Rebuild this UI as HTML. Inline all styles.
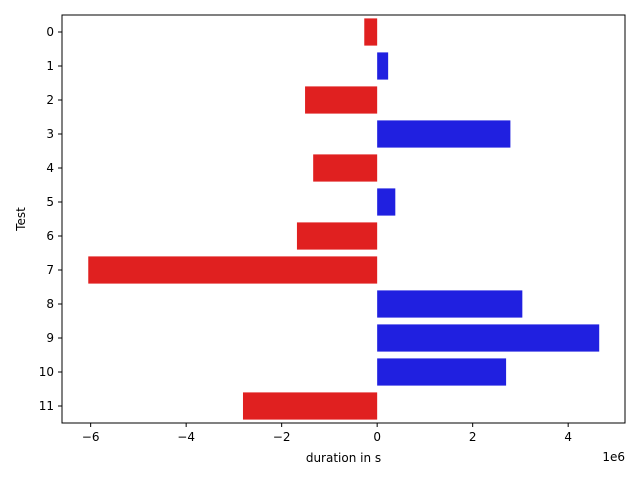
<!DOCTYPE html>
<html><head><meta charset="utf-8"><style>
body{margin:0;background:#fff;font-family:"DejaVu Sans","Liberation Sans",sans-serif;}
</style></head><body>
<svg id="chart" width="640" height="480" xmlns="http://www.w3.org/2000/svg" font-family="DejaVu Sans, Liberation Sans, sans-serif"></svg>
<script>
const categories=["0","1","2","3","4","5","6","7","8","9","10","11"];
const values=[-0.27,0.23,-1.51,2.79,-1.34,0.38,-1.68,-6.05,3.04,4.65,2.70,-2.81];
const xTicks=[-6,-4,-2,0,2,4];
const xTickLabels=["\u22126","\u22124","\u22122","0","2","4"];
const svg=document.getElementById('chart');
const NS="http://www.w3.org/2000/svg";
const L=62,R=625,T=15,B=423;
const xmin=-6.6,xmax=5.19;
const xs=v=>L+(v-xmin)/(xmax-xmin)*(R-L);
const band=(B-T)/categories.length;
const ys=i=>T+band*(i+0.5);
function mk(tag,attrs){const e=document.createElementNS(NS,tag);for(const k in attrs)e.setAttribute(k,attrs[k]);svg.appendChild(e);return e;}
values.forEach((v,i)=>{
  const x0=xs(Math.min(0,v)),x1=xs(Math.max(0,v));
  const r=mk('rect',{x:x0,y:ys(i)-band*0.4,width:x1-x0,height:band*0.8,fill:v<0?'#e02020':'#2020e0'});
  
  
});
const frame=mk('rect',{x:L,y:T,width:R-L,height:B-T,fill:'none',stroke:'#000','stroke-width':1});


xTicks.forEach((t,i)=>{
  const x=xs(t);
  mk('line',{x1:x,x2:x,y1:B,y2:B+4,stroke:'#000'});
  const tx=mk('text',{x:x,y:B+18,'text-anchor':'middle','font-size':12});
  tx.textContent=xTickLabels[i];
  
  
});
categories.forEach((c,i)=>{
  const y=ys(i);
  mk('line',{x1:L-4,x2:L,y1:y,y2:y,stroke:'#000'});
  const tx=mk('text',{x:L-8,y:y+4,'text-anchor':'end','font-size':12});
  tx.textContent=c;
  
  
});
const xt=mk('text',{x:(L+R)/2,y:462,'text-anchor':'middle','font-size':12});
xt.textContent='duration in s';


const ex=mk('text',{x:625,y:461,'text-anchor':'end','font-size':12});
ex.textContent='1e6';


const yt=mk('text',{x:25,y:(T+B)/2,'text-anchor':'middle','font-size':12,transform:`rotate(-90 25 ${(T+B)/2})`});
yt.textContent='Test';


</script>
</body></html>
